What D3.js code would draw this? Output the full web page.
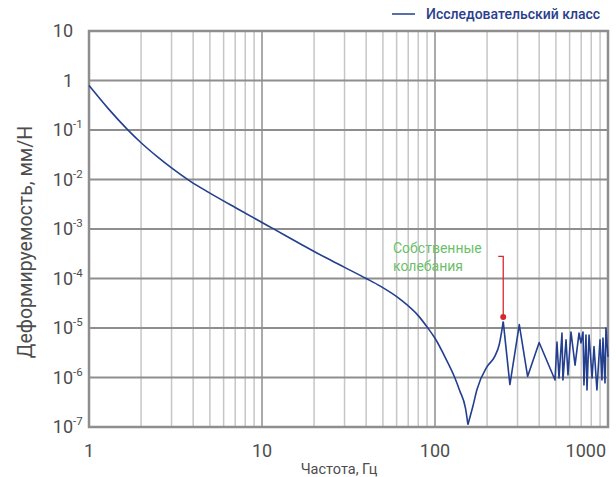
<!DOCTYPE html>
<html>
<head>
<meta charset="utf-8">
<script src="https://cdn.jsdelivr.net/npm/d3@7"></script>
<style>
  body { margin: 0; background: #fff; }
  svg { display: block; font-family: Roboto, "Noto Sans", sans-serif; }
</style>
</head>
<body>
<div id="chart"></div>
<script>
// Frequency, Hz
const freq = [1, 1.3, 1.66, 2, 2.5, 3, 3.84, 5, 7, 10, 11.6, 16.6, 23, 30, 40, 48, 63, 80, 90, 100,
  117, 130, 139, 150, 155, 165, 175, 200, 222, 235, 248,
  271, 307, 343, 400, 494, 507, 521, 542, 549, 572, 587, 611, 645, 680, 698, 717, 726, 746, 756,
  777, 809, 830, 863, 899, 923, 935, 961, 973, 1000];
// Compliance, mm/N
const compliance = [0.794, 0.264, 0.1042, 0.0553, 0.0283, 0.01718, 0.00929, 0.00532, 0.00272, 0.001355,
  0.001016, 0.000505, 0.000271, 0.000168, 0.0001, 7.1e-5, 3.8e-5, 1.78e-5, 1.05e-5, 6.2e-6,
  2.19e-6, 1.0e-6, 5.4e-7, 2.4e-7, 1.12e-7, 2.5e-7, 5.8e-7, 1.66e-6, 2.7e-6, 4.6e-6, 1.35e-5,
  7.2e-7, 1.17e-5, 1.05e-6, 5.1e-6, 8.9e-7, 5.2e-6, 9.8e-7, 7.9e-6, 8.9e-7, 5.8e-6, 1.12e-6, 8.3e-6,
  1.78e-6, 7.9e-6, 5.0e-6, 8.3e-6, 7.1e-7, 7.2e-6, 5.6e-7, 7.2e-6, 9.8e-7, 4.2e-6, 5.6e-7,
  5.8e-6, 8.9e-7, 6.3e-6, 7.8e-7, 1.0e-5, 2.6e-6];
// smooth stretches end at these indexes (dip and first resonance peak), then noisy
const smoothEnds = [24, 30];

const seriesName = "Исследовательский класс";
const xTicks = [1, 10, 100, 1000];
const yTicks = [10, 1, 1e-1, 1e-2, 1e-3, 1e-4, 1e-5, 1e-6, 1e-7];
const yTickLabels = [["10", ""], ["1", ""], ["10", "-1"], ["10", "-2"], ["10", "-3"], ["10", "-4"],
  ["10", "-5"], ["10", "-6"], ["10", "-7"]];

// natural oscillation marker
const peak = { f: 248, v: 1.66e-5 };
const peakLabel = ["Собственные", "колебания"];
const leaderTop = { f: 232, v: 2.8e-4 };

const w = 616;
const h = 477;
const m = { top: 31, right: 8, bottom: 50, left: 89 };

const navy = "#233f8e";
const grid = "#8e8e8e";
const gridLight = "#c6c6c6";
const txt = "#4d4d4d";

const x = d3.scaleLog().domain([1, 1000]).range([m.left, w - m.right]);
const y = d3.scaleLog().domain([1e-7, 10]).range([h - m.bottom, m.top]);

const svg = d3.select("#chart").append("svg")
  .attr("width", w)
  .attr("height", h);

// minor vertical grid
const minor = [];
[1, 10, 100].forEach(d => { for (let k = 2; k <= 9; k++) minor.push(d * k); });

svg.append("g").selectAll("line")
  .data(minor)
  .enter().append("line")
  .attr("x1", d => x(d)).attr("x2", d => x(d))
  .attr("y1", y(1e-7)).attr("y2", y(10))
  .attr("stroke", gridLight)
  .attr("stroke-width", 1.5);

svg.append("g").selectAll("line")
  .data([10, 100])
  .enter().append("line")
  .attr("x1", d => x(d)).attr("x2", d => x(d))
  .attr("y1", y(1e-7)).attr("y2", y(10))
  .attr("stroke", grid)
  .attr("stroke-width", 1.5);

// horizontal grid
svg.append("g").selectAll("line")
  .data(yTicks)
  .enter().append("line")
  .attr("x1", x(1)).attr("x2", x(1000))
  .attr("y1", d => y(d)).attr("y2", d => y(d))
  .attr("stroke", grid)
  .attr("stroke-width", 2);

// frame
svg.append("rect")
  .attr("x", x(1)).attr("y", y(10))
  .attr("width", x(1000) - x(1))
  .attr("height", y(1e-7) - y(10))
  .attr("fill", "none")
  .attr("stroke", grid)
  .attr("stroke-width", 2.5);

// x tick labels
svg.append("g").selectAll("text")
  .data(xTicks)
  .enter().append("text")
  .attr("x", (d, i) => i === xTicks.length - 1 ? x(d) - 2 : x(d))
  .attr("y", h - m.bottom + 30)
  .attr("text-anchor", (d, i) => i === xTicks.length - 1 ? "end" : "middle")
  .attr("font-size", 18)
  .attr("fill", txt)
  .text(d => d);

// y tick labels
const yl = svg.append("g");
yTicks.forEach((d, i) => {
  yl.append("text")
    .attr("x", m.left - 16)
    .attr("y", y(d))
    .attr("dy", "0.35em")
    .attr("text-anchor", "end")
    .attr("font-size", 18)
    .attr("fill", txt)
    .text(yTickLabels[i][0]);
  if (yTickLabels[i][1]) {
    yl.append("text")
      .attr("x", m.left - 16)
      .attr("y", y(d) - 2)
      .attr("font-size", 11.5)
      .attr("fill", txt)
      .text(yTickLabels[i][1]);
  }
});

// axis titles
svg.append("text")
  .attr("transform", "translate(32,242) rotate(-90)")
  .attr("text-anchor", "middle")
  .attr("font-size", 19.5)
  .attr("fill", txt)
  .text("Деформируемость, мм/Н");

svg.append("text")
  .attr("x", 339)
  .attr("y", h - 3)
  .attr("text-anchor", "middle")
  .attr("font-size", 14.5)
  .attr("fill", txt)
  .text("Частота, Гц");

// curve
const pts = freq.map((f, i) => [f, compliance[i]]);
const smooth = d3.line().x(d => x(d[0])).y(d => y(d[1])).curve(d3.curveMonotoneX);
const straight = d3.line().x(d => x(d[0])).y(d => y(d[1]));

const parts = [
  [pts.slice(0, smoothEnds[0] + 1), smooth],
  [pts.slice(smoothEnds[0], smoothEnds[1] + 1), smooth],
  [pts.slice(smoothEnds[1]), straight]
];
parts.forEach(p => {
  svg.append("path")
    .attr("d", p[1](p[0]))
    .attr("fill", "none")
    .attr("stroke", navy)
    .attr("stroke-width", 1.6)
    .attr("stroke-linejoin", "round");
});

// annotation
const red = "#d9262f";
svg.append("path")
  .attr("d", "M" + x(peak.f) + "," + y(peak.v) + "V" + y(leaderTop.v) + "H" + x(leaderTop.f))
  .attr("fill", "none")
  .attr("stroke", red)
  .attr("stroke-width", 1.3);
svg.append("circle")
  .attr("cx", x(peak.f))
  .attr("cy", y(peak.v))
  .attr("r", 3)
  .attr("fill", red);

svg.append("g").selectAll("text")
  .data(peakLabel)
  .enter().append("text")
  .attr("x", 393)
  .attr("y", (d, i) => 253 + i * 18)
  .attr("font-size", 14)
  .attr("fill", "#6cbf6a")
  .text(d => d);

// legend
svg.append("line")
  .attr("x1", 392).attr("x2", 415)
  .attr("y1", 14).attr("y2", 14)
  .attr("stroke", navy)
  .attr("stroke-width", 1.5);
svg.append("text")
  .attr("x", 426)
  .attr("y", 19)
  .attr("font-size", 14)
  .attr("font-weight", 500)
  .attr("fill", "#2a3e8c")
  .text(seriesName);
</script>
</body>
</html>
